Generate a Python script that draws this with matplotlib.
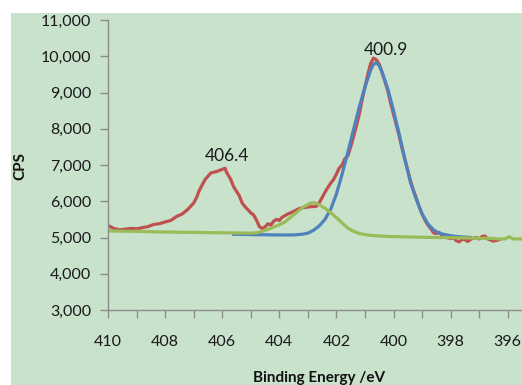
import matplotlib
matplotlib.use("Agg")
import matplotlib.pyplot as plt
from matplotlib.patches import Rectangle
from matplotlib.ticker import MultipleLocator, FuncFormatter

# measured spectrum (red)
red_x = [410.0, 409.8, 409.6, 409.4, 409.2, 409.0, 408.8, 408.6, 408.4, 408.2,
         408.0, 407.8, 407.6, 407.4, 407.2, 407.0, 406.9, 406.8, 406.6, 406.4,
         406.2, 406.0, 405.9, 405.85, 405.7, 405.6, 405.4, 405.3, 405.2, 405.0,
         404.9, 404.8, 404.7, 404.6, 404.5, 404.4, 404.3, 404.2, 404.1, 404.0,
         403.9, 403.7, 403.5, 403.3, 403.1, 402.9, 402.7, 402.6, 402.5, 402.4,
         402.3, 402.2, 402.1, 402.0, 401.9, 401.8, 401.7, 401.6, 401.5, 401.4,
         401.3, 401.2, 401.1, 401.0, 400.9, 400.8, 400.7, 400.6, 400.5, 400.4,
         400.3, 400.2, 400.1, 400.0, 399.9, 399.8, 399.7, 399.6, 399.5, 399.4,
         399.3, 399.2, 399.1, 399.0, 398.9, 398.8, 398.7, 398.6, 398.5, 398.4,
         398.3, 398.2, 398.1, 398.0, 397.9, 397.8, 397.7, 397.6, 397.5, 397.4,
         397.3, 397.2, 397.1, 397.0, 396.9, 396.8, 396.7, 396.6, 396.5, 396.4,
         396.3]
red_y = [5330, 5250, 5210, 5230, 5250, 5240, 5270, 5300, 5360, 5380,
         5430, 5470, 5580, 5650, 5780, 5950, 6100, 6300, 6600, 6780,
         6820, 6880, 6910, 6800, 6600, 6400, 6150, 5950, 5850, 5680,
         5620, 5480, 5300, 5250, 5290, 5380, 5340, 5450, 5500, 5470,
         5560, 5650, 5720, 5800, 5830, 5850, 5860, 5960, 6100, 6250,
         6380, 6500, 6600, 6750, 6920, 7000, 7180, 7250, 7500, 7780,
         8080, 8400, 8800, 9150, 9500, 9800, 9950, 9900, 9780, 9550,
         9300, 9050, 8700, 8400, 8100, 7800, 7450, 7150, 6850, 6550,
         6300, 6080, 5850, 5650, 5480, 5350, 5250, 5130, 5110, 5140,
         5060, 5040, 4990, 4970, 4990, 4910, 4880, 4950, 4940, 4890,
         4950, 4980, 5000, 4960, 5030, 5040, 4960, 4930, 4900, 4920,
         4940]

# fitted component at 400.9 (blue)
blue_x = [405.6, 405.0, 404.5, 404.0, 403.5, 403.2, 403.0, 402.8, 402.6, 402.4,
          402.2, 402.0, 401.8, 401.6, 401.4, 401.2, 401.0, 400.8, 400.7, 400.6,
          400.5, 400.4, 400.2, 400.0, 399.8, 399.6, 399.4, 399.2, 399.0, 398.8,
          398.6, 398.4, 398.2, 398.0, 397.8, 397.5, 397.3]
blue_y = [5090, 5080, 5075, 5070, 5070, 5090, 5120, 5200, 5320, 5500,
          5780, 6200, 6750, 7350, 7980, 8600, 9150, 9620, 9780, 9820,
          9740, 9560, 9100, 8500, 7850, 7150, 6500, 6050, 5650, 5380,
          5210, 5120, 5080, 5050, 5030, 5010, 5000]

# fitted component near 403 with background (green)
green_x = [410.0, 409.0, 408.0, 407.0, 406.0, 405.0, 404.8, 404.6, 404.4, 404.2,
           404.0, 403.8, 403.6, 403.4, 403.2, 403.0, 402.9, 402.8, 402.7, 402.6,
           402.4, 402.2, 402.0, 401.8, 401.6, 401.4, 401.2, 401.0, 400.8, 400.5,
           400.0, 399.5, 399.0, 398.5, 398.0, 397.5, 397.0, 396.6, 396.3, 396.1,
           395.95, 395.8, 395.5]
green_y = [5180, 5170, 5150, 5140, 5130, 5120, 5130, 5170, 5220, 5290,
           5350, 5430, 5560, 5690, 5820, 5910, 5950, 5960, 5940, 5900,
           5810, 5680, 5550, 5400, 5260, 5170, 5110, 5080, 5060, 5040,
           5025, 5015, 5005, 5000, 4995, 4990, 4980, 4975, 4960, 4960,
           5020, 4960, 4960]

peak_labels = ["406.4", "400.9"]
peak_pos = [(405.85, 7250), (400.28, 10170)]

bg = "#C8E2CC"
plt.rcParams["font.family"] = ["Lato", "DejaVu Sans"]

fig = plt.figure(figsize=(5.22, 3.85), dpi=100, facecolor="white")
fig.patches.append(Rectangle((11 / 522, 0), 1 - 11 / 522, (385 - 13) / 385,
                             transform=fig.transFigure, facecolor=bg,
                             edgecolor="none", zorder=-10))

ax = fig.add_axes([108 / 522, 75 / 385, 1 - 108 / 522, 290 / 385])
ax.set_facecolor(bg)

ax.plot(red_x, red_y, color="#C0504D", lw=2.3)
ax.plot(blue_x, blue_y, color="#4F81BD", lw=2.3)
ax.plot(green_x, green_y, color="#9BBB59", lw=2.3)

for txt, (px, py) in zip(peak_labels, peak_pos):
    ax.text(px, py, txt, ha="center", va="center", fontsize=12.5, color="#1a1a1a")

ax.set_xlim(410, 395.5)
ax.set_ylim(3000, 11000)
ax.xaxis.set_major_locator(MultipleLocator(2))
ax.xaxis.set_minor_locator(MultipleLocator(1))
ax.yaxis.set_major_locator(MultipleLocator(1000))
ax.yaxis.set_major_formatter(FuncFormatter(lambda v, p: f"{int(v):,}"))

for s in ["top", "right"]:
    ax.spines[s].set_visible(False)
for s in ["left", "bottom"]:
    ax.spines[s].set_color("#8c8c8c")
    ax.spines[s].set_linewidth(1.0)

ax.tick_params(axis="y", direction="out", length=6, width=1, color="#8c8c8c",
               labelsize=11.5, labelcolor="#1a1a1a", pad=6)
ax.tick_params(axis="x", which="both", direction="out", length=6, width=1,
               color="#8c8c8c", labelsize=11.5, labelcolor="#1a1a1a", pad=12)

fig.text(20 / 522, 1 - 166 / 385, "CPS", rotation=90, ha="center", va="center",
         fontsize=11, fontweight="bold", color="#111111")
fig.text(319 / 522, 1 - 378 / 385, "Binding Energy /eV", ha="center", va="center",
         fontsize=11, fontweight="bold", color="#111111")

fig.savefig("out.png", dpi=100, facecolor="white")
